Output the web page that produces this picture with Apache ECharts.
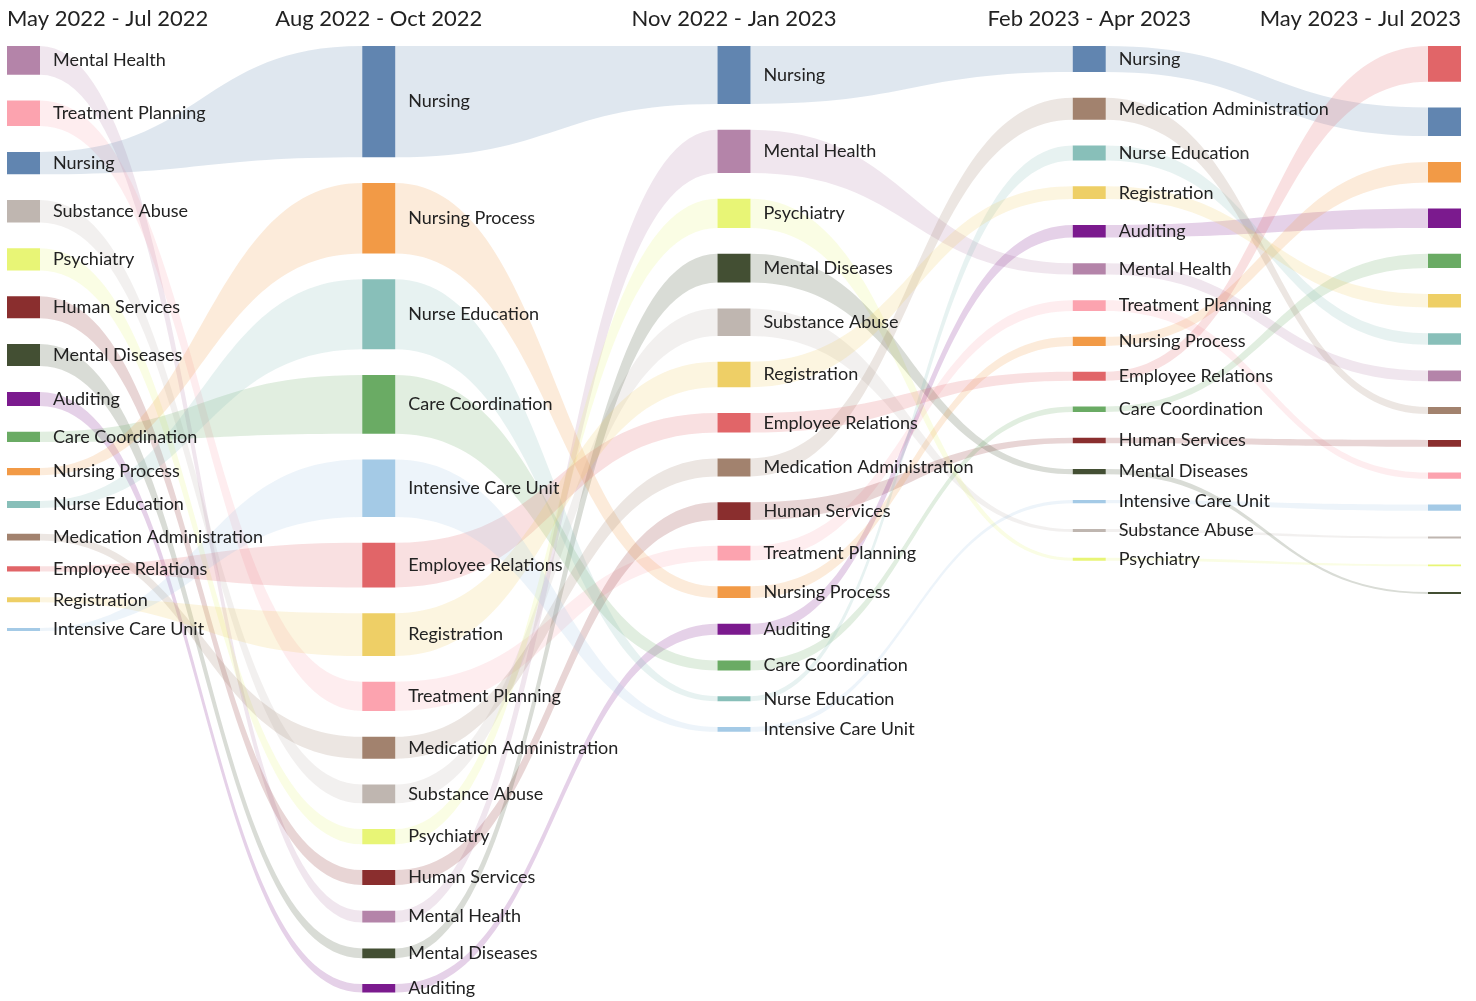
<!DOCTYPE html>
<html><head><meta charset="utf-8">
<script src="https://cdn.jsdelivr.net/npm/echarts@6/dist/echarts.min.js"></script>
<style>html,body{margin:0;padding:0;background:#fff}#chart{width:1476px;height:1001px}</style>
</head><body><div id="chart"></div>
<script>
const periods = ['May 2022 - Jul 2022', 'Aug 2022 - Oct 2022', 'Nov 2022 - Jan 2023', 'Feb 2023 - Apr 2023', 'May 2023 - Jul 2023'];
const categories = ['Mental Health', 'Treatment Planning', 'Nursing', 'Substance Abuse', 'Psychiatry', 'Human Services', 'Mental Diseases', 'Auditing', 'Care Coordination', 'Nursing Process', 'Nurse Education', 'Medication Administration', 'Employee Relations', 'Registration', 'Intensive Care Unit'];
const colors = ['#b484a9', '#fca3af', '#6185b0', '#bfb6b0', '#e8f576', '#8a2e2e', '#434f33', '#7b1a8e', '#6aab64', '#f29a46', '#88bfb9', '#a2826e', '#e16568', '#eecf66', '#a4cae6'];
// values per category (same order as categories)
const may22 = [28.7, 25.6, 22.4, 22.3, 22.2, 22.1, 22.0, 14.1, 10.3, 7.3, 6.9, 6.8, 5.1, 5.0, 3.1];
const aug22 = [11.9, 29.2, 111.2, 18.8, 15.1, 14.9, 9.8, 8.5, 58.7, 70.5, 70.0, 21.9, 44.6, 42.8, 57.4];
const nov22 = [43.2, 14.7, 57.9, 27.6, 29.2, 17.8, 28.9, 11.1, 9.8, 11.6, 5.0, 18.0, 19.6, 25.4, 4.8];
const feb23 = [11.1, 10.8, 26.0, 3.0, 2.9, 5.4, 5.3, 12.6, 5.5, 9.1, 14.9, 22.0, 9.0, 12.8, 3.1];
const may23 = [10.7, 6.3, 28.6, 2.0, 1.9, 6.8, 1.8, 19.6, 14.3, 20.7, 11.4, 7.1, 35.7, 13.6, 6.2];
const valuesByPeriod = [may22, aug22, nov22, feb23, may23];

const NODE_GAP = 25.8;
const NODE_W = 33;

const tops = valuesByPeriod.map(vals => {
  const order = vals.map((v, i) => i).sort((a, b) => vals[b] - vals[a]);
  const t = new Array(vals.length);
  let acc = 0;
  order.forEach(i => { t[i] = acc; acc += vals[i] + NODE_GAP; });
  t.total = acc - NODE_GAP;
  return t;
});
const maxTotal = Math.max(...tops.map(t => t.total));

const linkData = [], nodeData = [];
for (let p = 0; p < periods.length; p++) {
  for (let c = 0; c < categories.length; c++) {
    nodeData.push([p, c]);
    if (p < periods.length - 1) linkData.push([p, c]);
  }
}

function linkItem(params, api) {
  const p = api.value(0), c = api.value(1);
  const a0 = api.coord([p, tops[p][c]]);
  const a1 = api.coord([p, tops[p][c] + valuesByPeriod[p][c]]);
  const b0 = api.coord([p + 1, tops[p + 1][c]]);
  const b1 = api.coord([p + 1, tops[p + 1][c] + valuesByPeriod[p + 1][c]]);
  const xs = a0[0] + NODE_W / 2, xt = b0[0] - NODE_W / 2, xm = (xs + xt) / 2;
  const d = 'M' + xs + ',' + a0[1] + ' C' + xm + ',' + a0[1] + ' ' + xm + ',' + b0[1] + ' ' + xt + ',' + b0[1] +
    ' L' + xt + ',' + b1[1] + ' C' + xm + ',' + b1[1] + ' ' + xm + ',' + a1[1] + ' ' + xs + ',' + a1[1] + ' Z';
  return { type: 'path', shape: { pathData: d }, style: { fill: echarts.color.modifyAlpha(colors[c], 0.2) } };
}

function nodeItem(params, api) {
  const p = api.value(0), c = api.value(1);
  const t = api.coord([p, tops[p][c]]);
  const b = api.coord([p, tops[p][c] + valuesByPeriod[p][c]]);
  const children = [{
    type: 'rect',
    shape: { x: t[0] - NODE_W / 2, y: t[1], width: NODE_W, height: Math.max(b[1] - t[1], 0.5) },
    style: { fill: colors[c] }
  }];
  if (p < periods.length - 1) {
    children.push({
      type: 'text',
      style: {
        text: categories[c], x: t[0] + NODE_W / 2 + 13, y: (t[1] + b[1]) / 2,
        fill: '#222', fontFamily: 'Lato', fontSize: 18, align: 'left', verticalAlign: 'middle'
      }
    });
  }
  return { type: 'group', children: children };
}

function titleItem(params, api) {
  const p = api.value(0);
  const pt = api.coord([p, 0]);
  let x = pt[0], align = 'center';
  if (p === 0) { x = pt[0] - NODE_W / 2; align = 'left'; }
  else if (p === periods.length - 1) { x = pt[0] + NODE_W / 2; align = 'right'; }
  return {
    type: 'text',
    style: { text: periods[p], x: x, y: pt[1] - 27, fill: '#222', fontFamily: 'Lato', fontSize: 22, align: align, verticalAlign: 'middle' }
  };
}

const chart = echarts.init(document.getElementById('chart'));
chart.setOption({
  animation: false,
  backgroundColor: '#fff',
  grid: { left: 23.5, right: 31.5, top: 46, height: maxTotal },
  xAxis: { type: 'value', min: 0, max: periods.length - 1, show: false },
  yAxis: { type: 'value', min: 0, max: maxTotal, inverse: true, show: false },
  series: [
    { type: 'custom', silent: true, renderItem: linkItem, data: linkData },
    { type: 'custom', silent: true, renderItem: nodeItem, data: nodeData },
    { type: 'custom', silent: true, renderItem: titleItem, data: periods.map((_, i) => [i]) }
  ]
});
</script>
</body></html>
